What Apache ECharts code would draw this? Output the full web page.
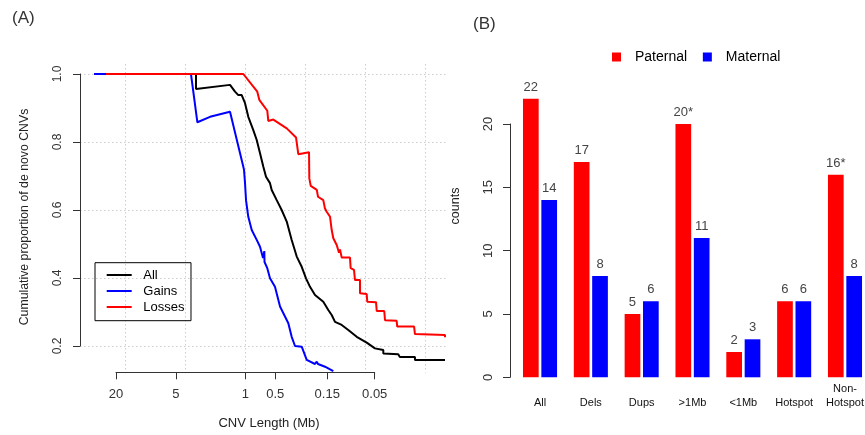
<!DOCTYPE html>
<html><head><meta charset="utf-8">
<script src="https://cdn.jsdelivr.net/npm/echarts@6/dist/echarts.min.js"></script>
<style>html,body{margin:0;padding:0;background:#fff}#c{width:865px;height:435px}</style>
</head><body><div id="c"></div>
<script>
// ---- Panel A: cumulative proportion vs CNV length (Mb) ----
const allLen  = [33.47, 3.16, 3.16, 1.438, 1.382, 1.281, 1.232, 1.187, 1.097, 1.057, 1.016, 0.942, 0.839, 0.775, 0.718, 0.665, 0.625, 0.570, 0.548, 0.488, 0.435, 0.387, 0.345, 0.307, 0.2736, 0.2477, 0.2258, 0.2011, 0.166, 0.1479, 0.1367, 0.1266, 0.1084, 0.0931, 0.0766, 0.0608, 0.0502, 0.0414, 0.0414, 0.0293, 0.0283, 0.0199, 0.0199, 0.00993];
const allProp = [1.0, 1.0, 0.956, 0.968, 0.965, 0.948, 0.943, 0.938, 0.938, 0.941, 0.914, 0.874, 0.835, 0.806, 0.767, 0.727, 0.698, 0.679, 0.659, 0.629, 0.600, 0.566, 0.512, 0.463, 0.433, 0.399, 0.374, 0.350, 0.330, 0.306, 0.291, 0.271, 0.262, 0.247, 0.227, 0.210, 0.193, 0.188, 0.178, 0.176, 0.168, 0.168, 0.159, 0.159];

const gainLen  = [33.47, 3.55, 3.06, 2.285, 1.438, 1.057, 1.040, 1.016, 0.993, 0.942, 0.870, 0.775, 0.718, 0.670, 0.650, 0.647, 0.607, 0.570, 0.508, 0.452, 0.373, 0.345, 0.3196, 0.2736, 0.2437, 0.2011, 0.1933, 0.1876, 0.1596, 0.1317];
const gainProp = [1.0, 1.0, 0.858, 0.874, 0.889, 0.727, 0.718, 0.679, 0.629, 0.580, 0.541, 0.512, 0.492, 0.459, 0.479, 0.447, 0.429, 0.399, 0.374, 0.316, 0.267, 0.227, 0.200, 0.198, 0.159, 0.147, 0.154, 0.147, 0.139, 0.126];

const lossLen  = [25.35, 1.057, 0.765, 0.730, 0.607, 0.593, 0.528, 0.387, 0.312, 0.296, 0.231, 0.2295, 0.222, 0.193, 0.1876, 0.166, 0.160, 0.1535, 0.142, 0.1367, 0.1317, 0.1217, 0.1154, 0.1128, 0.1084, 0.0895, 0.0881, 0.0816, 0.0797, 0.0710, 0.0710, 0.0608, 0.0600, 0.0490, 0.0482, 0.0405, 0.0398, 0.0304, 0.0300, 0.0203, 0.0199, 0.00993, 0.00993];
const lossProp = [1.0, 1.0, 0.948, 0.924, 0.892, 0.862, 0.866, 0.840, 0.813, 0.764, 0.770, 0.693, 0.671, 0.659, 0.639, 0.629, 0.605, 0.595, 0.580, 0.541, 0.517, 0.497, 0.474, 0.484, 0.460, 0.460, 0.429, 0.424, 0.394, 0.394, 0.355, 0.353, 0.330, 0.329, 0.303, 0.303, 0.276, 0.274, 0.257, 0.257, 0.235, 0.232, 0.226];

const xTicksA = [20, 5, 1, 0.5, 0.15, 0.05];
const seriesNamesA = ['All', 'Gains', 'Losses'];

// ---- Panel B: parental origin counts ----
const barCategories = ['All', 'Dels', 'Dups', '>1Mb', '<1Mb', 'Hotspot', 'Non-\nHotspot'];
const paternal = [22, 17, 5, 20, 2, 6, 16];
const maternal = [14, 8, 6, 11, 3, 6, 8];
const paternalLabels = ['22', '17', '5', '20*', '2', '6', '16*'];
const maternalLabels = ['14', '8', '6', '11', '3', '6', '8'];

const FONT = 'Liberation Sans, Arial, Helvetica, sans-serif';
const pairs = (xs, ys) => xs.map((x, i) => [x, ys[i]]);
const dotted = {color: '#cccccc', width: 1, type: [1.5, 2.5]};
const axisCol = '#333';

const chart = echarts.init(document.getElementById('c'), null, {renderer: 'canvas'});
chart.setOption({
  animation: false,
  backgroundColor: '#ffffff',
  textStyle: {fontFamily: FONT},
  grid: [
    {left: 80, right: 418.5, top: 64, bottom: 62.5, outerBoundsMode: 'none'},
    {left: 80, right: 418.5, top: 74, bottom: 89, outerBoundsMode: 'none'},
    {left: 116, right: 490.3, top: 64, bottom: 62.7, outerBoundsMode: 'none'},
    {left: 125, right: 439.3, top: 64, bottom: 62.5, outerBoundsMode: 'none'},
    {left: 514.6, width: 355.8, top: 124, bottom: 57.7, outerBoundsMode: 'none'}
  ],
  xAxis: [
    {gridIndex: 0, type: 'log', logBase: 10, min: 0.00959, max: 46.3, inverse: true, show: false},
    {gridIndex: 1, type: 'value', min: 0, max: 1, show: false},
    {gridIndex: 2, type: 'log', logBase: 10, min: 0.05, max: 20, inverse: true,
      axisLine: {show: true, lineStyle: {color: axisCol, width: 1}},
      axisTick: {show: true, length: 7, customValues: xTicksA, lineStyle: {color: axisCol}},
      axisLabel: {show: true, customValues: xTicksA, formatter: v => String(v), margin: 15.5, fontSize: 13, color: '#333', fontFamily: FONT},
      splitLine: {show: false}, minorTick: {show: false}, minorSplitLine: {show: false}},
    {gridIndex: 3, type: 'log', logBase: 4, min: 1 / 64, max: 16, inverse: true, splitNumber: 5,
      axisLine: {show: false}, axisTick: {show: false}, axisLabel: {show: false},
      splitLine: {show: true, lineStyle: dotted}},
    {gridIndex: 4, type: 'category', data: barCategories,
      axisLine: {show: false}, axisTick: {show: false},
      axisLabel: {interval: 0, margin: 32.7, verticalAlign: 'bottom', lineHeight: 14, fontSize: 11, color: '#111', fontFamily: FONT}}
  ],
  yAxis: [
    {gridIndex: 0, type: 'value', min: 0.12206, max: 1.0294, show: false},
    {gridIndex: 1, type: 'value', min: 0.2, max: 1.0, interval: 0.2,
      axisLine: {show: true, lineStyle: {color: axisCol, width: 1}},
      axisTick: {show: true, length: 7, lineStyle: {color: axisCol}},
      axisLabel: {rotate: 90, margin: 16.5, formatter: v => v.toFixed(1), fontSize: 12, color: '#333', fontFamily: FONT},
      splitLine: {show: true, lineStyle: dotted}},
    {gridIndex: 2, type: 'value', show: false},
    {gridIndex: 3, type: 'value', show: false},
    {gridIndex: 4, type: 'value', min: 0, max: 20, interval: 5, offset: 4.6,
      axisLine: {show: true, lineStyle: {color: axisCol, width: 1}},
      axisTick: {show: true, length: 7, lineStyle: {color: axisCol}},
      axisLabel: {rotate: 90, margin: 15, fontSize: 13, color: '#333', fontFamily: FONT},
      splitLine: {show: false}}
  ],
  legend: [
    {data: seriesNamesA, orient: 'vertical', left: 95, top: 262.7,
      padding: [4.55, 6.5, 5.95, 11.7], itemWidth: 25, itemHeight: 2, itemGap: 0.5, icon: 'rect',
      borderColor: '#000', borderWidth: 1, selectedMode: false,
      textStyle: {fontSize: 13, color: '#000', lineHeight: 15.5, padding: [0, 0, 0, 6.6], fontFamily: FONT}},
    {data: ['Paternal', 'Maternal'], orient: 'horizontal', left: 612, top: 49, padding: 0,
      itemWidth: 9, itemHeight: 9, itemGap: 15.7, icon: 'rect', selectedMode: false,
      textStyle: {fontSize: 14, color: '#000', lineHeight: 16, padding: [0, 0, 0, 9], fontFamily: FONT}}
  ],
  graphic: [
    {type: 'text', x: 12, y: 18, style: {text: '(A)', font: '17px ' + FONT, fill: '#333', align: 'left', verticalAlign: 'middle'}},
    {type: 'text', x: 473, y: 24, style: {text: '(B)', font: '17px ' + FONT, fill: '#333', align: 'left', verticalAlign: 'middle'}},
    {type: 'text', x: 25, y: 217, rotation: Math.PI / 2, style: {text: 'Cumulative proportion of de novo CNVs', font: '12.3px ' + FONT, fill: '#222', align: 'center', verticalAlign: 'middle'}},
    {type: 'text', x: 269, y: 423, style: {text: 'CNV Length (Mb)', font: '13px ' + FONT, fill: '#222', align: 'center', verticalAlign: 'middle'}},
    {type: 'text', x: 456, y: 206, rotation: Math.PI / 2, style: {text: 'counts', font: '12.5px ' + FONT, fill: '#222', align: 'center', verticalAlign: 'middle'}}
  ],
  series: [
    {name: 'All', type: 'line', xAxisIndex: 0, yAxisIndex: 0, data: pairs(allLen, allProp), symbol: 'none',
      lineStyle: {color: '#000000', width: 2}, itemStyle: {color: '#000000'}, z: 3},
    {name: 'Gains', type: 'line', xAxisIndex: 0, yAxisIndex: 0, data: pairs(gainLen, gainProp), symbol: 'none',
      lineStyle: {color: '#0000ff', width: 2}, itemStyle: {color: '#0000ff'}, z: 4},
    {name: 'Losses', type: 'line', xAxisIndex: 0, yAxisIndex: 0, data: pairs(lossLen, lossProp), symbol: 'none',
      lineStyle: {color: '#ff0000', width: 2}, itemStyle: {color: '#ff0000'}, z: 5},
    {name: 'Paternal', type: 'bar', xAxisIndex: 4, yAxisIndex: 4, data: paternal, barWidth: 15.7, barGap: '17%', clip: false,
      itemStyle: {color: '#ff0000'},
      label: {show: true, position: 'top', distance: 5, formatter: p => paternalLabels[p.dataIndex], fontSize: 13, color: '#444', fontFamily: FONT}},
    {name: 'Maternal', type: 'bar', xAxisIndex: 4, yAxisIndex: 4, data: maternal, barWidth: 15.7, barGap: '17%', clip: false,
      itemStyle: {color: '#0000ff'},
      label: {show: true, position: 'top', distance: 5, formatter: p => maternalLabels[p.dataIndex], fontSize: 13, color: '#444', fontFamily: FONT}}
  ]
});
</script></body></html>
